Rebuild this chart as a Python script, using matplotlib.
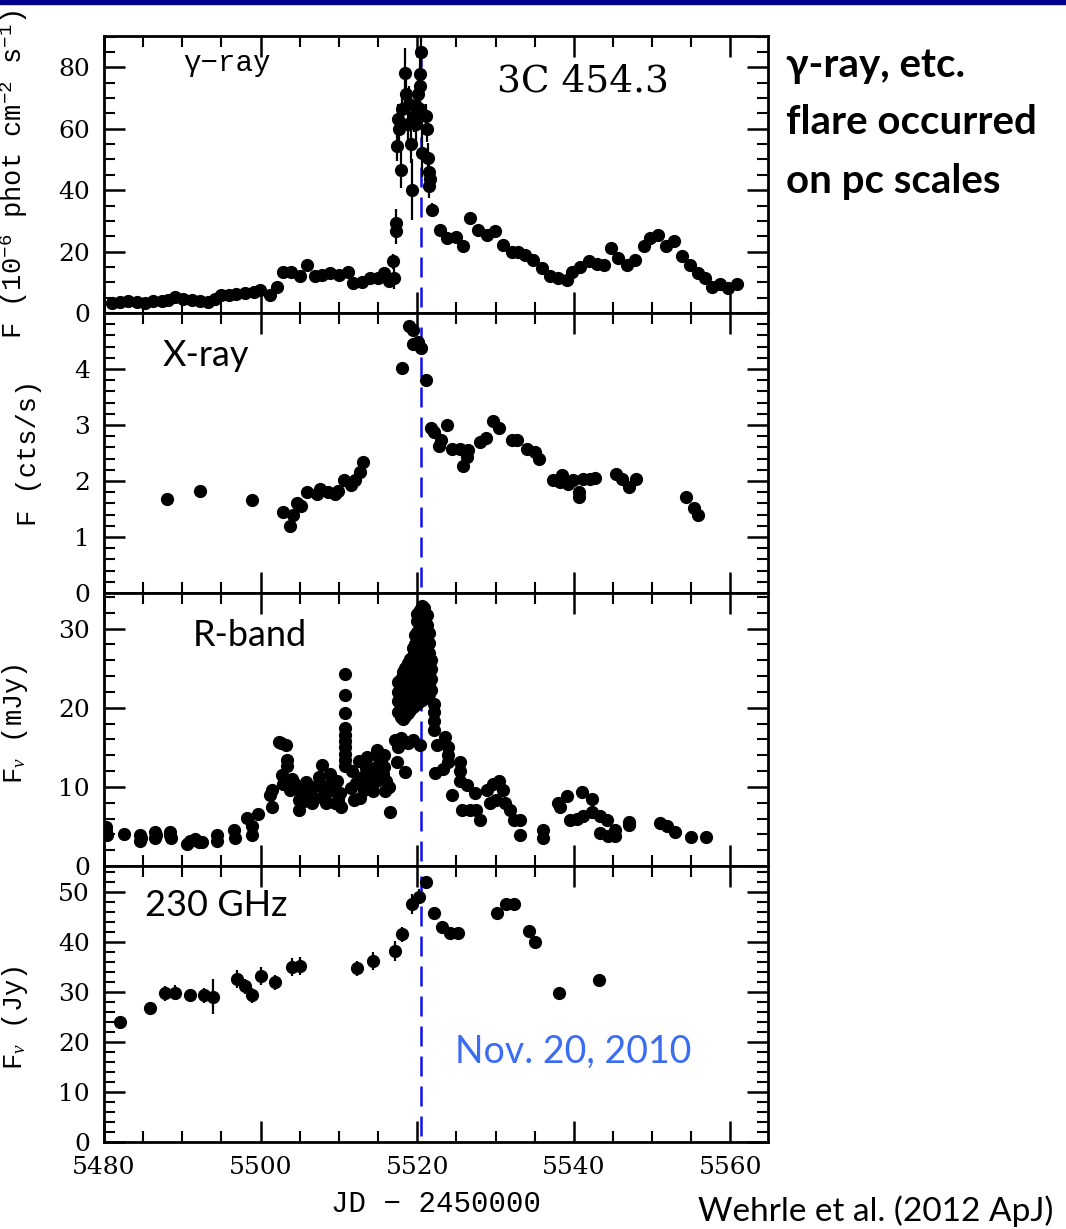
import matplotlib
matplotlib.use('Agg')
import matplotlib.pyplot as plt
from matplotlib.ticker import MultipleLocator, FixedLocator
from matplotlib.patches import Rectangle

plt.rcParams['mathtext.fontset'] = 'custom'
plt.rcParams['mathtext.rm'] = 'Liberation Mono'
plt.rcParams['mathtext.it'] = 'Liberation Serif:italic'

# ---------------- data ----------------
gamma_jd = [5481.0, 5482.0, 5483.1, 5484.2, 5485.2, 5486.3, 5487.4, 5488.2, 5489.1, 5490.1,
            5491.2, 5492.2, 5493.3, 5494.2, 5495.0, 5496.0, 5496.9, 5498.0, 5499.1, 5499.9,
            5501.2, 5502.1, 5502.9, 5503.9, 5505.0, 5505.9, 5507.0, 5507.8, 5508.9, 5510.0,
            5511.1, 5511.8, 5512.9, 5514.0, 5515.0, 5515.8, 5516.4, 5516.9, 5517.0, 5517.3,
            5517.3, 5517.4, 5517.5, 5517.7, 5517.9, 5518.1, 5518.4, 5518.6, 5518.8, 5519.0,
            5519.2, 5519.3, 5519.6, 5519.9, 5519.9, 5520.1, 5520.3, 5520.4, 5520.5, 5520.4,
            5520.6, 5521.1, 5521.2, 5521.4, 5521.5, 5521.6, 5521.5, 5521.9, 5522.9, 5523.8,
            5525.0, 5525.9, 5526.7, 5527.8, 5528.9, 5529.9, 5531.0, 5532.1, 5532.9, 5533.8,
            5534.8, 5535.9, 5537.0, 5538.0, 5539.1, 5539.8, 5540.8, 5541.9, 5542.9, 5543.9,
            5544.8, 5545.7, 5546.8, 5547.8, 5548.9, 5549.7, 5550.8, 5551.8, 5552.8, 5553.8,
            5554.8, 5555.9, 5556.8, 5557.6, 5558.7, 5559.7, 5560.8]
gamma_flux = [3.4, 3.6, 4.0, 3.7, 3.4, 3.8, 4.0, 4.2, 5.3, 4.5,
              4.2, 4.0, 3.6, 4.4, 5.8, 6.0, 6.3, 6.6, 6.9, 7.4,
              5.8, 8.5, 13.3, 13.3, 12.2, 15.7, 12.1, 12.4, 13.0, 12.4,
              13.5, 9.7, 10.2, 11.3, 11.3, 13.0, 10.5, 16.8, 11.3, 29.3,
              26.6, 54.4, 63.1, 59.8, 46.7, 66.3, 78.3, 71.2, 61.5, 68.0,
              54.9, 40.2, 64.0, 67.4, 61.4, 71.2, 74.0, 77.8, 85.1, 66.3,
              52.2, 64.2, 59.8, 50.5, 46.0, 43.5, 41.4, 33.7, 27.1, 24.4,
              24.9, 21.7, 30.9, 27.1, 25.5, 26.6, 22.2, 20.0, 20.0, 19.0,
              17.3, 14.6, 11.9, 11.3, 10.6, 13.5, 15.1, 16.8, 16.1, 15.7,
              21.1, 17.8, 15.7, 17.3, 21.7, 24.4, 25.5, 21.7, 23.4, 18.5,
              15.7, 13.0, 11.3, 8.5, 9.6, 8.0, 9.4]
gamma_err = [0.8, 0.8, 0.8, 0.8, 0.8, 0.8, 0.8, 0.8, 0.8, 0.8,
             0.8, 0.8, 0.8, 0.8, 0.8, 0.8, 0.8, 0.8, 0.8, 0.8,
             0.8, 1.0, 1.0, 1.0, 1.0, 1.0, 1.0, 1.0, 1.0, 1.0,
             1.0, 1.0, 1.0, 1.0, 1.0, 1.5, 2.5, 2.5, 3.5, 4.5,
             4.0, 5.0, 5.0, 5.0, 6.0, 5.0, 8.0, 6.0, 6.0, 6.0,
             6.0, 10.0, 5.0, 6.0, 6.0, 6.0, 6.0, 7.0, 9.0, 6.0,
             8.0, 4.0, 4.0, 5.0, 4.0, 4.0, 4.0, 2.0, 1.5, 1.2,
             1.2, 1.2, 1.2, 1.2, 1.2, 1.2, 1.2, 1.2, 1.2, 1.2,
             1.2, 1.2, 1.2, 1.2, 1.2, 1.2, 1.2, 1.2, 1.2, 1.2,
             1.2, 1.2, 1.2, 1.2, 1.2, 1.2, 1.2, 1.2, 1.2, 1.2,
             1.2, 1.2, 1.2, 1.2, 1.2, 1.2, 1.2]

xray_jd = [5488.0, 5492.3, 5498.9, 5502.9, 5503.7, 5504.2, 5504.6, 5505.2, 5505.9, 5507.2,
           5507.6, 5508.6, 5509.5, 5509.9, 5510.6, 5511.6, 5512.0, 5512.7, 5513.1,
           5518.1, 5518.9, 5519.5, 5519.5, 5520.1, 5520.5, 5521.1,
           5521.8, 5522.2, 5523.1, 5523.8, 5522.8, 5524.4, 5525.5, 5526.5, 5526.3, 5525.8,
           5528.0, 5528.8, 5529.7, 5530.5, 5532.1, 5532.8, 5534.0, 5535.0, 5535.5,
           5537.4, 5538.5, 5538.2, 5539.3, 5539.9, 5540.6, 5540.6, 5541.2, 5542.1, 5542.7,
           5545.4, 5546.1, 5547.0, 5547.9, 5554.3, 5555.3, 5555.9]
xray_flux = [1.68, 1.83, 1.66, 1.45, 1.19, 1.40, 1.60, 1.56, 1.80, 1.77,
             1.86, 1.80, 1.77, 1.83, 2.01, 1.92, 2.01, 2.16, 2.34,
             4.02, 4.76, 4.70, 4.45, 4.48, 4.38, 3.80,
             2.94, 2.88, 2.73, 3.00, 2.63, 2.57, 2.58, 2.55, 2.43, 2.27,
             2.70, 2.76, 3.07, 2.94, 2.73, 2.73, 2.58, 2.51, 2.39,
             2.01, 2.10, 1.98, 1.95, 2.01, 1.80, 1.71, 2.04, 2.04, 2.05,
             2.13, 2.04, 1.89, 2.04, 1.72, 1.51, 1.39]

rband_jd = [5480.3, 5480.4, 5480.3, 5482.5, 5484.6, 5484.6, 5484.7, 5486.5, 5486.5, 5486.6,
            5488.4, 5488.5, 5488.4, 5490.6, 5491.0, 5491.6, 5492.1, 5492.5, 5494.4, 5494.4,
            5496.6, 5496.7, 5498.2, 5498.9, 5498.9, 5499.7, 5501.2, 5501.4, 5501.4, 5502.3,
            5502.6, 5503.3, 5503.4, 5503.4, 5502.7, 5502.8,
            5503.5, 5503.8, 5504.0, 5504.3, 5504.5, 5504.9, 5504.9, 5504.9, 5505.3, 5505.8,
            5505.6, 5506.2, 5506.6, 5506.6, 5507.0, 5507.5, 5507.9, 5507.9, 5508.2, 5508.4,
            5508.8, 5508.9, 5509.2, 5509.5, 5509.7, 5509.9, 5510.3, 5510.1,
            5510.8, 5510.8, 5510.8, 5510.8, 5510.8, 5510.8, 5510.8, 5510.8, 5510.8, 5510.8,
            5511.5, 5511.7, 5511.9, 5512.2, 5512.6, 5512.7, 5513.0, 5513.2, 5513.4, 5513.6,
            5513.9, 5514.1, 5514.3, 5514.5, 5514.9, 5514.7, 5515.1, 5515.4, 5515.6, 5515.7,
            5515.7, 5515.9, 5516.0, 5516.4, 5516.5,
            5517.2, 5517.5, 5517.4, 5518.4, 5518.4, 5519.5, 5520.4, 5517.9, 5518.8,
            5517.6, 5517.6, 5517.6, 5517.6,
            5517.9, 5517.9, 5517.9, 5517.9, 5517.9,
            5518.2, 5518.2, 5518.2, 5518.2, 5518.2, 5518.2,
            5518.5, 5518.5, 5518.5, 5518.5, 5518.5, 5518.5,
            5518.8, 5518.8, 5518.8, 5518.8, 5518.8, 5518.8,
            5519.1, 5519.1, 5519.1, 5519.1, 5519.1, 5519.1,
            5519.4, 5519.4, 5519.4, 5519.4, 5519.4, 5519.4, 5519.4,
            5519.7, 5519.7, 5519.7, 5519.7, 5519.7, 5519.7, 5519.7, 5519.7,
            5520.0, 5520.0, 5520.0, 5520.0, 5520.0, 5520.0, 5520.0, 5520.0, 5520.0, 5520.0,
            5520.3, 5520.3, 5520.3, 5520.3, 5520.3, 5520.3, 5520.3, 5520.3, 5520.3, 5520.3,
            5520.6, 5520.6, 5520.6, 5520.6, 5520.6, 5520.6, 5520.6, 5520.6, 5520.6, 5520.6,
            5520.9, 5520.9, 5520.9, 5520.9, 5520.9, 5520.9, 5520.9, 5520.9, 5520.9, 5520.9,
            5521.2, 5521.2, 5521.2, 5521.2, 5521.2, 5521.2, 5521.2, 5521.2, 5521.2,
            5521.5, 5521.5, 5521.5, 5521.5, 5521.5, 5521.5, 5521.5,
            5521.8, 5521.8, 5521.8, 5521.8,
            5522.1, 5522.1, 5522.1, 5522.1, 5522.5, 5523.5, 5523.9, 5523.9, 5523.9, 5522.3,
            5523.3, 5524.4, 5525.5, 5525.5, 5525.5, 5526.3, 5525.7, 5527.4, 5526.7, 5527.5,
            5528.0, 5528.9, 5529.7, 5530.4, 5529.3, 5530.0, 5531.0, 5531.2, 5531.9, 5532.3,
            5533.1, 5533.1, 5536.1, 5536.1, 5538.0, 5539.1, 5538.2, 5539.5, 5540.4, 5541.2,
            5541.0, 5542.3, 5542.3, 5543.3, 5544.2, 5543.3, 5544.4, 5545.3, 5545.3, 5547.0,
            5547.0, 5551.0, 5551.9, 5552.9, 5555.0, 5556.9]
rband_flux = [4.9, 3.9, 4.4, 4.1, 3.9, 3.1, 3.5, 4.3, 3.5, 3.9,
              4.3, 3.5, 3.9, 2.8, 3.1, 3.4, 3.0, 3.0, 3.9, 3.1,
              4.6, 3.5, 6.1, 5.1, 3.9, 6.6, 9.0, 9.6, 7.5, 15.7,
              15.5, 15.3, 13.4, 12.6, 11.5, 10.4,
              10.2, 9.6, 11.0, 10.5, 9.8, 9.6, 8.3, 7.1, 9.0, 10.6,
              8.2, 9.5, 10.0, 8.0, 8.6, 11.2, 12.8, 10.0, 9.0, 7.9,
              11.6, 10.4, 9.6, 8.0, 10.8, 8.3, 7.5, 9.2,
              24.3, 21.6, 19.3, 17.5, 16.6, 15.8, 15.0, 14.2, 13.4, 12.6,
              9.9, 12.0, 8.3, 10.5, 13.3, 8.6, 11.2, 9.6, 12.4, 13.8,
              10.6, 11.6, 9.5, 12.4, 14.6, 10.8, 13.7, 13.3, 11.6, 14.0,
              12.5, 9.5, 10.8, 10.0, 6.8,
              15.9, 15.0, 13.2, 11.9, 15.7, 15.9, 15.3, 16.2, 15.6,
              19.5, 20.8, 22.0, 23.2,
              18.8, 20.0, 21.3, 22.6, 23.6,
              18.6, 19.9, 21.1, 22.4, 23.7, 24.5,
              18.9, 20.1, 21.5, 22.8, 24.0, 25.0,
              19.3, 20.6, 21.9, 23.1, 24.4, 25.6,
              19.7, 21.0, 22.3, 23.5, 24.8, 26.2,
              20.1, 21.4, 22.7, 23.9, 25.2, 26.5, 27.6,
              20.3, 21.6, 22.9, 24.2, 25.5, 26.8, 28.0, 29.2,
              20.5, 21.8, 23.1, 24.4, 25.7, 27.0, 28.3, 29.6, 30.9, 31.8,
              20.8, 22.1, 23.4, 24.7, 26.0, 27.3, 28.6, 29.9, 31.2, 32.4,
              21.0, 22.3, 23.6, 24.9, 26.2, 27.5, 28.8, 30.1, 31.4, 32.8,
              21.2, 22.5, 23.8, 25.1, 26.4, 27.7, 29.0, 30.3, 31.6, 32.6,
              21.4, 22.7, 24.0, 25.3, 26.6, 27.9, 29.2, 30.5, 31.7,
              21.7, 23.0, 24.3, 25.6, 26.9, 28.2, 29.5,
              22.3, 23.6, 24.9, 26.0,
              17.2, 18.3, 19.4, 20.5, 15.3, 16.3, 15.0, 14.0, 13.1, 11.7,
              12.2, 9.0, 13.1, 12.0, 10.7, 10.2, 7.1, 9.2, 7.1, 7.1,
              5.8, 9.6, 10.4, 10.8, 8.0, 8.4, 9.6, 8.0, 7.1, 5.8,
              5.8, 3.9, 4.6, 3.6, 8.0, 8.8, 7.4, 5.8, 6.0, 6.3,
              9.3, 8.5, 6.8, 6.3, 5.8, 4.2, 3.8, 4.6, 3.8, 5.6,
              5.2, 5.4, 5.0, 4.3, 3.7, 3.7]

mm_jd = [5482.0, 5485.9, 5487.8, 5489.1, 5491.0, 5492.8, 5493.9, 5497.0, 5498.0, 5498.9,
         5500.0, 5501.9, 5504.0, 5505.0, 5512.3, 5514.4, 5517.2, 5518.1, 5519.3, 5520.2,
         5521.1, 5522.2, 5523.2, 5524.2, 5525.2, 5530.2, 5531.3, 5532.3, 5534.3, 5535.1,
         5538.1, 5543.2]
mm_flux = [23.9, 26.7, 29.7, 29.8, 29.3, 29.3, 29.0, 32.5, 31.1, 29.3,
           33.2, 31.9, 35.0, 35.1, 34.7, 36.2, 38.1, 41.5, 47.5, 49.0,
           51.9, 45.7, 43.0, 41.8, 41.8, 45.7, 47.5, 47.5, 42.2, 40.0,
           29.7, 32.3]
mm_err = [1.0, 1.2, 1.5, 1.5, 1.2, 1.5, 3.5, 1.8, 1.5, 1.5,
          1.8, 1.5, 1.8, 1.8, 1.5, 1.8, 2.0, 1.5, 2.0, 1.5,
          1.0, 1.0, 1.0, 1.0, 1.0, 1.0, 1.0, 1.0, 1.0, 1.0,
          1.0, 1.0]

flare_date = 5520.5
xticks_major = [5480, 5500, 5520, 5540, 5560]

# ---------------- figure ----------------
W, H = 1066, 1229
fig = plt.figure(figsize=(W / 100, H / 100), dpi=100)


def fx(px):
    return px / W


def fy(py):
    return 1 - py / H


left, right = 104, 768
bounds = [36, 313, 593, 866, 1142]
axes = []
for i in range(4):
    ax = fig.add_axes([fx(left), fy(bounds[i + 1]), (right - left) / W,
                       (bounds[i + 1] - bounds[i]) / H])
    axes.append(ax)

tickfam = 'DejaVu Serif'
ticksize = 18
mono = ['Liberation Mono', 'DejaVu Sans Mono']

ylims = [(0, 90.2), (0, 5.0), (0, 34.5), (0, 55.1)]
ymaj = [[0, 20, 40, 60, 80], [0, 1, 2, 3, 4], [0, 10, 20, 30], [0, 10, 20, 30, 40, 50]]
ymin = [5, 0.2, 2, 2]

for i, ax in enumerate(axes):
    ax.set_xlim(5480, 5564.8)
    ax.set_ylim(*ylims[i])
    ax.xaxis.set_major_locator(FixedLocator(xticks_major))
    ax.xaxis.set_minor_locator(MultipleLocator(5))
    ax.yaxis.set_major_locator(FixedLocator(ymaj[i]))
    ax.yaxis.set_minor_locator(MultipleLocator(ymin[i]))
    ax.tick_params(which='both', direction='in', top=True, right=True)
    ax.tick_params(which='major', length=15, width=1.8, pad=10)
    ax.tick_params(which='minor', length=8, width=1.5)
    for sp in ax.spines.values():
        sp.set_linewidth(2)
    for lab in ax.get_yticklabels():
        lab.set_fontfamily(tickfam)
        lab.set_fontsize(ticksize)
    if i < 3:
        ax.tick_params(labelbottom=False)
    else:
        for lab in ax.get_xticklabels():
            lab.set_fontfamily(tickfam)
            lab.set_fontsize(ticksize)
    ax.axvline(flare_date, ymin=0.02, ymax=0.98, color='#1010ee', lw=1.8,
               dashes=(8, 4), zorder=1)

mk = dict(fmt='o', ms=8.5, color='black', ecolor='black', elinewidth=1.6,
          capsize=0, zorder=3)
axes[0].errorbar(gamma_jd, gamma_flux, yerr=gamma_err, **mk)
axes[1].plot(xray_jd, xray_flux, 'o', ms=8.5, color='black', zorder=3)
axes[2].plot(rband_jd, rband_flux, 'o', ms=8.5, color='black', zorder=3)
axes[3].errorbar(mm_jd, mm_flux, yerr=mm_err, **mk)

# y labels
axes[0].set_ylabel(r'F (10$^{-6}$ phot cm$^{-2}$ s$^{-1}$)', family=mono, fontsize=19.5)
axes[1].set_ylabel('F (cts/s)', family=mono, fontsize=19.5)
axes[2].set_ylabel(r'F$_\nu$ (mJy)', family=mono, fontsize=19.5)
axes[3].set_ylabel(r'F$_\nu$ (Jy)', family=mono, fontsize=19.5)
axes[0].yaxis.set_label_coords((30 - left) / (right - left), 0.5)
axes[1].yaxis.set_label_coords((42 - left) / (right - left), 0.5)
axes[2].yaxis.set_label_coords((30 - left) / (right - left), 0.52)
axes[3].yaxis.set_label_coords((30 - left) / (right - left), 0.45)

axes[3].set_xlabel('JD \u2212 2450000', family=mono, fontsize=21, labelpad=8)

# panel texts
fig.text(fx(183), fy(63), '\u03b3\u2212ray', family=mono, fontsize=21, va='center', ha='left')
fig.text(fx(497), fy(82), '3C 454.3', family='DejaVu Serif', fontsize=27,
         va='center', ha='left')
sans = ['Lato', 'DejaVu Sans']
fig.text(fx(163), fy(356), 'X-ray', family=sans, fontsize=26, va='center', ha='left')
fig.text(fx(193), fy(635), 'R-band', family=sans, fontsize=26, va='center', ha='left')
fig.text(fx(145), fy(906), '230 GHz', family=sans, fontsize=26, va='center', ha='left')
fig.text(fx(455), fy(1052), 'Nov. 20, 2010', family=sans, fontsize=27, color='#3a6cf4',
         va='center', ha='left')

# side notes
for txt, yy in [('\u03b3-ray, etc.', 66), ('flare occurred', 123), ('on pc scales', 182)]:
    fig.text(fx(786), fy(yy), txt, family=sans, fontsize=29, fontweight='bold',
             va='center', ha='left')
fig.text(fx(1053), fy(1211), 'Wehrle et al. (2012 ApJ)', family=sans, fontsize=24,
         va='center', ha='right')

# top bar
fig.add_artist(Rectangle((0, fy(4)), 1, 4 / H, transform=fig.transFigure,
                         color='#00008b', zorder=10))

fig.savefig('out.png', dpi=100)
